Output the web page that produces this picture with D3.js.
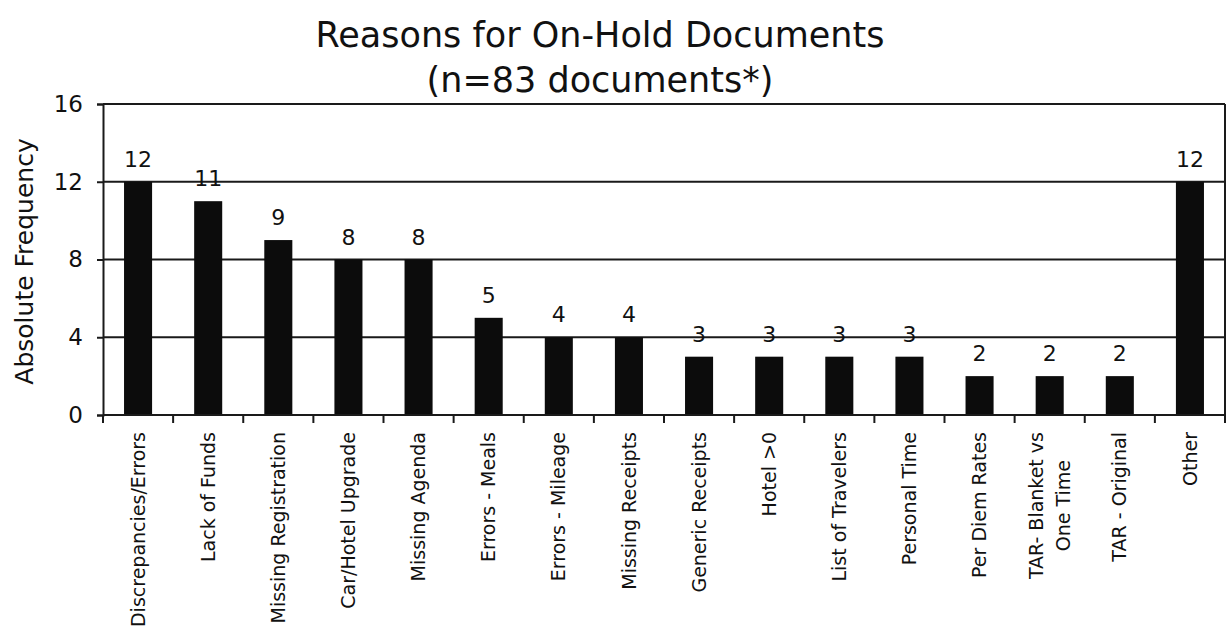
<!DOCTYPE html>
<html>
<head>
<meta charset="utf-8">
<script src="https://cdn.jsdelivr.net/npm/d3@7"></script>
<style>
  html, body { margin: 0; padding: 0; background: #fff; }
  svg { display: block; }
  text { font-family: "DejaVu Sans", sans-serif; fill: #111; }
</style>
</head>
<body>
<svg id="chart" width="1228" height="631"></svg>
<script>
// Reasons documents were put on hold, with counts
const categories = [
  "Discrepancies/Errors", "Lack of Funds", "Missing Registration", "Car/Hotel Upgrade",
  "Missing Agenda", "Errors - Meals", "Errors - Mileage", "Missing Receipts",
  "Generic Receipts", "Hotel >0", "List of Travelers", "Personal Time",
  "Per Diem Rates", "TAR- Blanket vs\nOne Time", "TAR - Original", "Other"
];
const counts = [12, 11, 9, 8, 8, 5, 4, 4, 3, 3, 3, 3, 2, 2, 2, 12];
const yTicks = [0, 4, 8, 12, 16];
const titleLines = ["Reasons for On-Hold Documents", "(n=83 documents*)"];
const yLabel = "Absolute Frequency";

const svg = d3.select("#chart");
const margin = { left: 103, right: 3, top: 104, bottom: 216 };
const W = 1228, H = 631;
const plotW = W - margin.left - margin.right;
const plotH = H - margin.top - margin.bottom;

const x = d3.scaleBand().domain(categories).range([0, plotW]).paddingInner(0.6).paddingOuter(0.3);
const xBands = d3.scaleBand().domain(categories).range([0, plotW]);
const y = d3.scaleLinear().domain([0, 16]).range([plotH, 0]);

const g = svg.append("g").attr("transform", `translate(${margin.left},${margin.top})`);

// horizontal gridlines
g.selectAll(".grid").data(yTicks.filter(t => t > 0)).join("line")
  .attr("x1", 0).attr("x2", plotW)
  .attr("y1", d => y(d)).attr("y2", d => y(d))
  .attr("stroke", "#1a1a1a").attr("stroke-width", 2);

// right border
g.append("line").attr("x1", plotW).attr("x2", plotW).attr("y1", 0).attr("y2", plotH)
  .attr("stroke", "#1a1a1a").attr("stroke-width", 2);

// bars
g.selectAll(".bar").data(counts).join("rect")
  .attr("x", (d, i) => x(categories[i]))
  .attr("width", x.bandwidth())
  .attr("y", d => y(d))
  .attr("height", d => plotH - y(d))
  .attr("fill", "#0c0c0c");

// value labels
g.selectAll(".val").data(counts).join("text")
  .attr("x", (d, i) => x(categories[i]) + x.bandwidth() / 2)
  .attr("y", d => y(d) - 15)
  .attr("text-anchor", "middle")
  .attr("font-family", "'DejaVu Sans Condensed', 'DejaVu Sans', sans-serif")
  .attr("font-size", 22)
  .text(d => d);

// y axis
const yAxis = d3.axisLeft(y).tickValues(yTicks).tickSize(6).tickPadding(14);
const ya = g.append("g").call(yAxis);
ya.select(".domain").attr("stroke", "#1a1a1a").attr("stroke-width", 2);
ya.selectAll(".tick line").attr("stroke", "#1a1a1a").attr("stroke-width", 2);
ya.selectAll(".tick text").attr("font-size", 23)
  .attr("font-family", "'DejaVu Sans', sans-serif").attr("fill", "#111");

// x axis with ticks between categories
const xa = g.append("g").attr("transform", `translate(0,${plotH})`);
xa.append("line").attr("x1", 0).attr("x2", plotW).attr("stroke", "#1a1a1a").attr("stroke-width", 2);
xa.selectAll(".xt").data(d3.range(0, categories.length + 1)).join("line")
  .attr("x1", i => i * xBands.step()).attr("x2", i => i * xBands.step())
  .attr("y1", 0).attr("y2", 8)
  .attr("stroke", "#1a1a1a").attr("stroke-width", 2);

// rotated category labels
const cl = xa.selectAll(".cat").data(categories).join("text")
  .attr("transform", d => `translate(${xBands(d) + xBands.bandwidth() / 2},17) rotate(-90)`)
  .attr("text-anchor", "end")
  .attr("font-size", 19);
cl.each(function (d) {
  const lines = d.split("\n");
  const t = d3.select(this);
  lines.forEach((ln, k) => {
    t.append("tspan")
      .attr("x", 0)
      .attr("dy", k === 0 ? `${0.35 - (lines.length - 1) * 0.7}em` : "1.4em")
      .text(ln);
  });
});
// center the second line of multi-line labels under the first
cl.filter(d => d.includes("\n")).each(function () {
  const spans = d3.select(this).selectAll("tspan").nodes();
  const w0 = spans[0].getComputedTextLength();
  spans.forEach(s => {
    const w = s.getComputedTextLength();
    d3.select(s).attr("x", -(w0 - w) / 2);
  });
});

// y-axis title
svg.append("text")
  .attr("transform", `translate(33,${margin.top + plotH / 2 + 2}) rotate(-90)`)
  .attr("text-anchor", "middle")
  .attr("font-size", 25)
  .text(yLabel);

// chart title
svg.selectAll(".title").data(titleLines).join("text")
  .attr("x", 600)
  .attr("y", (d, i) => 47 + i * 45)
  .attr("text-anchor", "middle")
  .attr("font-size", 35)
  .text(d => d);
</script>
</body>
</html>
